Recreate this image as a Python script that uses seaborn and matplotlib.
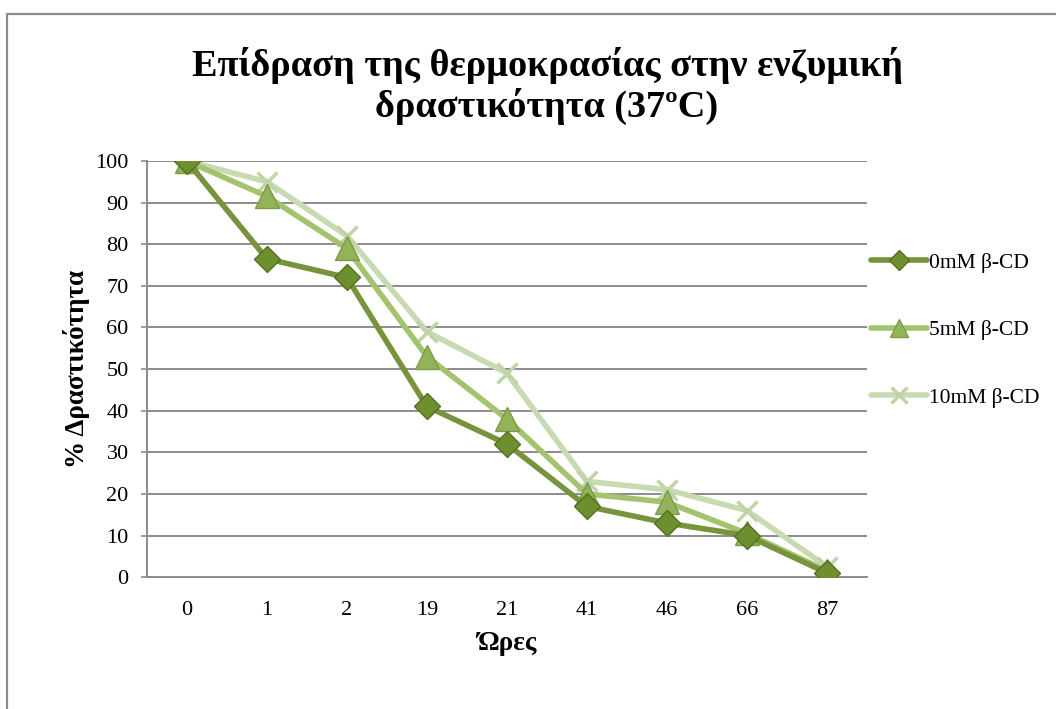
import matplotlib
matplotlib.use("Agg")
import matplotlib.pyplot as plt
import seaborn as sns
import pandas as pd
from matplotlib.patches import Rectangle

# Hours sampled (shown as equally spaced categories)
hours = ["0", "1", "2", "19", "21", "41", "46", "66", "87"]

# % residual activity for each β-CD concentration
act_0mM = [100, 76.5, 72, 41, 32, 17, 13, 10, 1]
act_5mM = [100, 91.5, 79, 53, 38, 20, 18, 10.5, 1.5]
act_10mM = [100, 95, 82, 59, 49, 23, 21, 16, 2.5]

series_names = ["0mM β-CD", "5mM β-CD", "10mM β-CD"]

sns.set_theme(style="white")
plt.rcParams["font.family"] = ["Liberation Serif", "DejaVu Serif"]
plt.rcParams["text.color"] = "black"
plt.rcParams["axes.labelcolor"] = "black"
plt.rcParams["xtick.color"] = "black"
plt.rcParams["ytick.color"] = "black"

rows = []
for name, vals in zip(series_names, [act_0mM, act_5mM, act_10mM]):
    for i, (h, v) in enumerate(zip(hours, vals)):
        rows.append({"pos": i, "hour": h, "activity": v, "series": name})
df = pd.DataFrame(rows)

fig = plt.figure(figsize=(10.56, 7.09), dpi=100)
ax = fig.add_axes([0.139, 0.186, 0.682, 0.587])

line_colors = {"0mM β-CD": "#77933C", "5mM β-CD": "#A3C36E", "10mM β-CD": "#C8DAB2"}
marker_style = {
    "0mM β-CD": dict(marker="D", ms=13, mfc="#6E8F2E", mec="#557020", mew=1.0),
    "5mM β-CD": dict(marker="^", ms=17, mfc="#93B35A", mec="#7A9A48", mew=1.0),
    "10mM β-CD": dict(marker="x", ms=15, mfc="#C8DAB2", mec="#C0D4A8", mew=2.5),
}

# Draw lightest series first so the darker ones sit on top
for k, name in enumerate(reversed(series_names)):
    sub = df[df["series"] == name]
    sns.lineplot(data=sub, x="pos", y="activity", ax=ax, color=line_colors[name],
                 lw=4.0, label=name, solid_capstyle="round", zorder=3 + k,
                 **marker_style[name])

ax.set_xlim(-0.5, len(hours) - 0.5)
ax.set_ylim(0, 100)
ax.set_xticks(range(len(hours)))
ax.set_xticklabels(hours)
ax.set_yticks(range(0, 101, 10))
ax.tick_params(axis="x", length=0, pad=17, labelsize=16)
ax.tick_params(axis="y", length=4, width=1.2, color="#8C8C8C", pad=9,
               labelsize=16, left=True, labelcolor="black")

ax.grid(axis="y", color="#8C8C8C", lw=1.4)
ax.grid(axis="x", visible=False)
for s in ["top", "right"]:
    ax.spines[s].set_visible(False)
for s in ["left", "bottom"]:
    ax.spines[s].set_color("#8C8C8C")
    ax.spines[s].set_linewidth(1.4)

ax.set_xlabel("Ώρες", fontsize=19.5, fontweight="bold", labelpad=8)
ax.set_ylabel("% Δραστικότητα", fontsize=19.5, fontweight="bold", labelpad=4)

# Legend in the original series order
handles, labels = ax.get_legend_handles_labels()
order = [labels.index(n) for n in series_names]
leg = fig.legend([handles[i] for i in order], [labels[i] for i in order],
                 loc="center left", bbox_to_anchor=(0.825, 0.534),
                 frameon=False, fontsize=15.5, handlelength=2.6,
                 handletextpad=0.1, labelspacing=2.2, borderpad=0,
                 borderaxespad=0, markerscale=0.75)
if ax.get_legend():
    ax.get_legend().remove()

fig.text(0.518, 0.907, "Επίδραση της θερμοκρασίας στην ενζυμική",
         ha="center", va="center", fontsize=27.5, fontweight="bold")
fig.text(0.518, 0.850, "δραστικότητα (37ºC)",
         ha="center", va="center", fontsize=27.5, fontweight="bold")

# Chart-area frame
fig.patches.append(Rectangle((0.0071, -0.05), 1.1, 1.03, transform=fig.transFigure,
                             fill=False, edgecolor="#8C8C8C", lw=1.6))

fig.savefig("out.png", dpi=100)
